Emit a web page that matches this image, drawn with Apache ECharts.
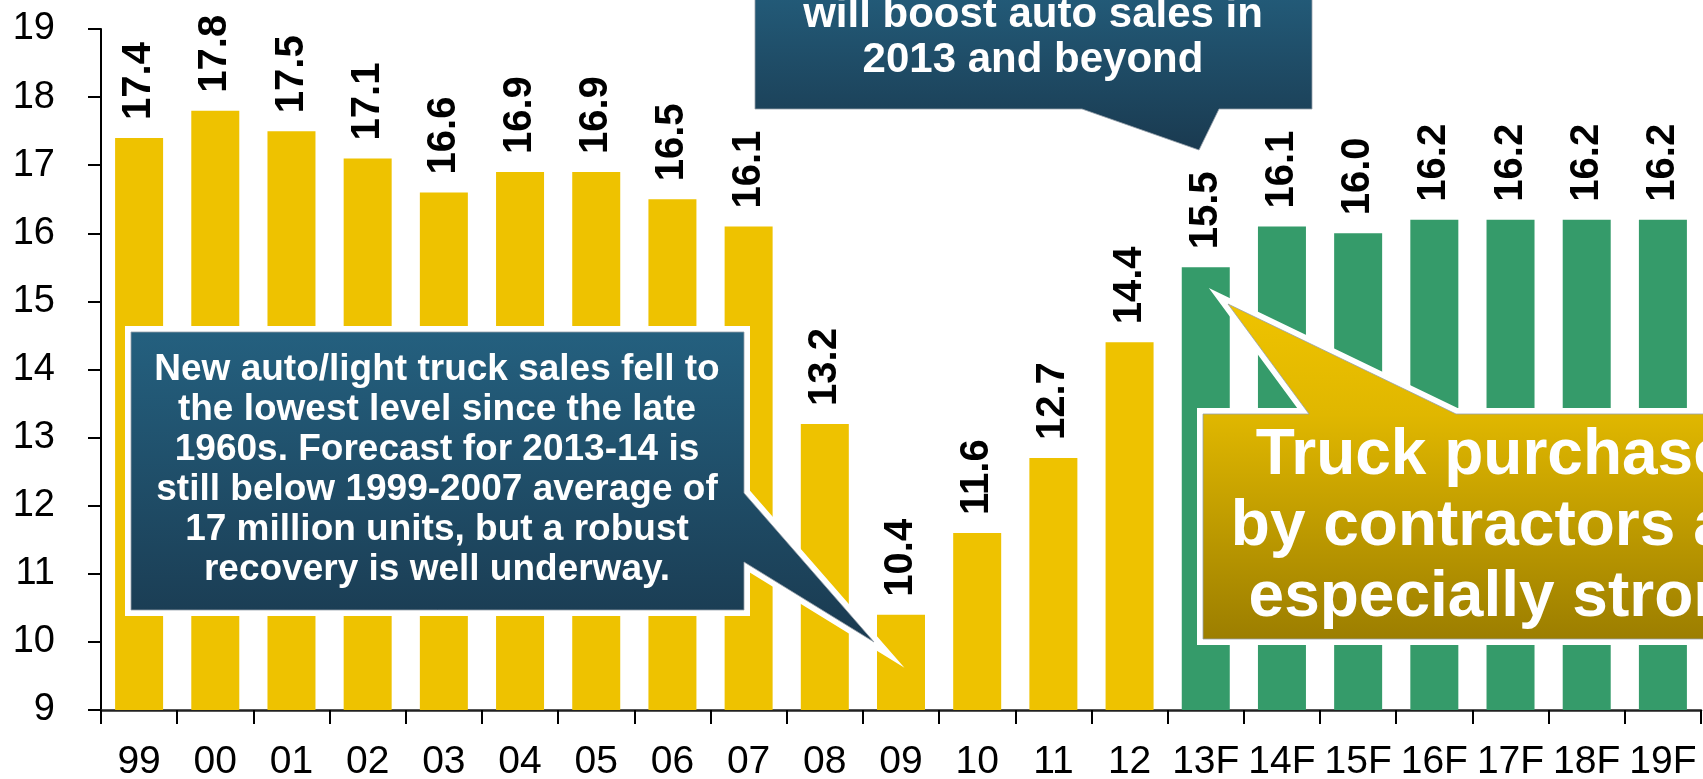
<!DOCTYPE html>
<html>
<head>
<meta charset="utf-8">
<title>Auto sales</title>
<script src="https://cdn.jsdelivr.net/npm/echarts@6.0.0/dist/echarts.min.js"></script>
<style>
  html, body { margin: 0; padding: 0; background: #fff; }
  #chart { width: 1703px; height: 779px; }
</style>
</head>
<body>
<div id="chart"></div>
<script>
// years, forecast years end in F
const categories = ['99', '00', '01', '02', '03', '04', '05', '06', '07', '08', '09', '10', '11', '12',
  '13F', '14F', '15F', '16F', '17F', '18F', '19F']
// new auto / light truck sales, millions of units
const actualSales = [17.4, 17.8, 17.5, 17.1, 16.6, 16.9, 16.9, 16.5, 16.1, 13.2, 10.4, 11.6, 12.7, 14.4,
  '-', '-', '-', '-', '-', '-', '-']
const forecastSales = ['-', '-', '-', '-', '-', '-', '-', '-', '-', '-', '-', '-', '-', '-',
  15.5, 16.1, 16.0, 16.2, 16.2, 16.2, 16.2]
const yTicks = { min: 9, max: 19, step: 1 }

const FONT = "'Liberation Sans', Arial, sans-serif"

const barLabel = {
  show: true,
  position: 'top',
  rotate: 90,
  align: 'left',
  verticalAlign: 'middle',
  distance: 18,
  color: '#000',
  fontSize: 40,
  fontWeight: 'bold',
  fontFamily: FONT,
  formatter: (p) => Number(p.value).toFixed(1)
}

// callout shapes (white outline under a gradient fill)
const callout = (points, colorStops, z) => [
  {
    type: 'polygon',
    z: z,
    silent: true,
    shape: { points },
    style: { fill: '#fff', stroke: '#fff', lineWidth: 12, lineJoin: 'miter', miterLimit: 10 }
  },
  {
    type: 'polygon',
    z: z + 1,
    silent: true,
    shape: { points },
    style: {
      fill: { type: 'linear', x: 0, y: 0, x2: 0, y2: 1, colorStops },
      stroke: 'rgba(150,160,170,0.8)',
      lineWidth: 1
    }
  }
]

const calloutText = (text, x, y, fontSize, lineHeight, z) => ({
  type: 'text',
  z: z,
  silent: true,
  style: {
    text,
    x,
    y,
    fill: '#fff',
    font: `bold ${fontSize}px ${FONT}`,
    align: 'center',
    verticalAlign: 'middle',
    lineHeight
  }
})

const blueStops = [{ offset: 0, color: '#24607f' }, { offset: 1, color: '#1a3a50' }]
const goldStops = [{ offset: 0, color: '#efc300' }, { offset: 0.33, color: '#e0b700' }, { offset: 1, color: '#9c7e00' }]

const chart = echarts.init(document.getElementById('chart'), null, { renderer: 'canvas' })

const option = {
  animation: false,
  backgroundColor: '#fff',
  grid: { left: 101, right: 2, top: 29, bottom: 69, outerBoundsMode: 'none' },
  xAxis: {
    type: 'category',
    data: categories,
    axisLine: { lineStyle: { color: '#222', width: 2.5 } },
    axisTick: { show: true, length: 14, interval: 0, lineStyle: { color: '#000', width: 2 } },
    axisLabel: { interval: 0, margin: 33, color: '#000', fontSize: 39, fontFamily: FONT }
  },
  yAxis: {
    type: 'value',
    min: yTicks.min,
    max: yTicks.max,
    interval: yTicks.step,
    axisLine: { show: true, lineStyle: { color: '#000', width: 2 } },
    axisTick: { show: true, length: 13, lineStyle: { color: '#000', width: 2 } },
    splitLine: { show: false },
    axisLabel: { margin: 46, color: '#000', fontSize: 38, fontFamily: FONT }
  },
  series: [
    {
      name: 'Actual',
      type: 'bar',
      data: actualSales,
      barWidth: 48,
      barGap: '-100%',
      itemStyle: { color: '#eec200' },
      label: barLabel
    },
    {
      name: 'Forecast',
      type: 'bar',
      data: forecastSales,
      barWidth: 48,
      itemStyle: { color: '#359b6a' },
      label: barLabel
    }
  ],
  graphic: [
    // top callout
    ...callout([[755, -30], [1312, -30], [1312, 109], [1219, 109], [1199, 150], [1082, 109], [755, 109]], blueStops, 100),
    calloutText('will boost auto sales in\n2013 and beyond', 1033, 38, 42, 45, 110),
    // left callout
    ...callout([[131, 332], [744, 332], [744, 493], [874, 642], [744, 562], [744, 610], [131, 610]], blueStops, 120),
    calloutText('New auto/light truck sales fell to\nthe lowest level since the late\n1960s. Forecast for 2013-14 is\nstill below 1999-2007 average of\n17 million units, but a robust\nrecovery is well underway.', 437, 470, 37, 40, 130),
    // right callout
    ...callout([[1203, 414], [1309, 414], [1228, 304], [1456, 414], [1830, 414], [1830, 639], [1203, 639]], goldStops, 140),
    calloutText('Truck purchases\nby contractors are\nespecially strong', 1510, 527, 64, 71, 150)
  ]
}

chart.setOption(option)
</script>
</body>
</html>
